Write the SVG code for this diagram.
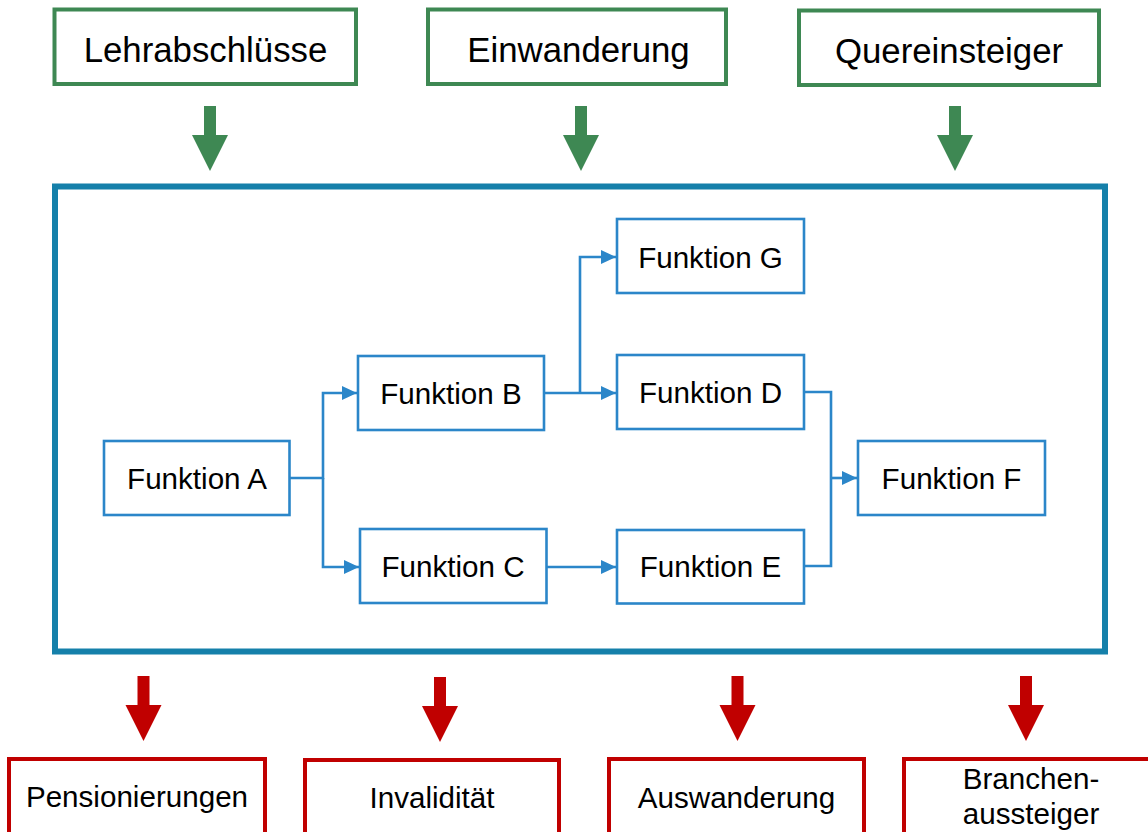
<svg xmlns="http://www.w3.org/2000/svg" xmlns:xlink="http://www.w3.org/1999/xlink" width="1148" height="832" viewBox="0 0 1148 832">
<style>
.bg{fill:#ffffff}
.src{fill:#ffffff;stroke:#3e8853;stroke-width:4}
.sink{fill:#ffffff;stroke:#c00000;stroke-width:4}
.frame{fill:none;stroke:#1580aa;stroke-width:6}
.fn{fill:#ffffff;stroke:#2b86c9;stroke-width:2.6}
.conn{fill:none;stroke:#2b86c9;stroke-width:2.6}
.garrow{fill:#3e8853}
.rarrow{fill:#c00000}
.big{font-family:"Liberation Sans",Arial,sans-serif;font-size:34.8px;fill:#000;text-anchor:middle}
.lbl{font-family:"Liberation Sans",Arial,sans-serif;font-size:29.6px;fill:#000;text-anchor:middle}
.out{font-family:"Liberation Sans",Arial,sans-serif;font-size:29.6px;fill:#000;text-anchor:middle}
</style>
<defs>
<marker id="ah" markerUnits="userSpaceOnUse" markerWidth="15" markerHeight="14" refX="15" refY="7" orient="auto">
<path d="M0,0 L15,7 L0,14 z" fill="#2b86c9"/>
</marker>
<polygon id="bigArrow" points="-6,0 6,0 6,29 18,29 0,65 -18,29 -6,29"/>
</defs>
<rect class="bg" x="0" y="0" width="1148" height="832"/>

<g id="lehrabschluesse">
<rect class="src" x="54.5" y="9.5" width="301.5" height="74.5"/>
<text class="big" x="205.5" y="62">Lehrabschlüsse</text>
</g>
<g id="einwanderung">
<rect class="src" x="428" y="9.5" width="298" height="74.5"/>
<text class="big" x="578.5" y="62">Einwanderung</text>
</g>
<g id="quereinsteiger">
<rect class="src" x="799" y="10.5" width="300" height="74.5"/>
<text class="big" x="949" y="63">Quereinsteiger</text>
</g>

<g id="inflow-arrows">
<use xlink:href="#bigArrow" class="garrow" x="210" y="106"/>
<use xlink:href="#bigArrow" class="garrow" x="581" y="106"/>
<use xlink:href="#bigArrow" class="garrow" x="955" y="106"/>
</g>

<g id="system">
<rect class="frame" x="55" y="186.5" width="1050" height="465"/>
</g>

<g id="funktion-a">
<rect class="fn" x="104" y="441" width="185.5" height="74"/>
<text class="lbl" x="197" y="489">Funktion A</text>
</g>
<g id="funktion-b">
<rect class="fn" x="358" y="356" width="186" height="74"/>
<text class="lbl" x="451" y="404">Funktion B</text>
</g>
<g id="funktion-c">
<rect class="fn" x="360" y="529" width="186.5" height="74"/>
<text class="lbl" x="453" y="577">Funktion C</text>
</g>
<g id="funktion-g">
<rect class="fn" x="617" y="219" width="187" height="74"/>
<text class="lbl" x="710.5" y="268">Funktion G</text>
</g>
<g id="funktion-d">
<rect class="fn" x="617" y="355" width="187" height="74"/>
<text class="lbl" x="710.5" y="403">Funktion D</text>
</g>
<g id="funktion-e">
<rect class="fn" x="617" y="530" width="187" height="73.5"/>
<text class="lbl" x="710.5" y="577">Funktion E</text>
</g>
<g id="funktion-f">
<rect class="fn" x="858" y="441" width="187" height="74"/>
<text class="lbl" x="951.5" y="489">Funktion F</text>
</g>

<g id="connectors">
<path class="conn" d="M289.5,478 H323 V393 H357" marker-end="url(#ah)"/>
<path class="conn" d="M323,478 V567 H359" marker-end="url(#ah)"/>
<path class="conn" d="M544,393 H616" marker-end="url(#ah)"/>
<path class="conn" d="M580,393 V257 H616" marker-end="url(#ah)"/>
<path class="conn" d="M546.5,567 H616" marker-end="url(#ah)"/>
<path class="conn" d="M804,392 H831 V566 H804"/>
<path class="conn" d="M831,478 H857" marker-end="url(#ah)"/>
</g>

<g id="outflow-arrows">
<use xlink:href="#bigArrow" class="rarrow" x="143.5" y="676"/>
<use xlink:href="#bigArrow" class="rarrow" x="440" y="677"/>
<use xlink:href="#bigArrow" class="rarrow" x="737.5" y="676"/>
<use xlink:href="#bigArrow" class="rarrow" x="1026" y="676"/>
</g>

<g id="pensionierungen">
<rect class="sink" x="9" y="759" width="256" height="100"/>
<text class="out" x="137" y="807">Pensionierungen</text>
</g>
<g id="invaliditaet">
<rect class="sink" x="305" y="760" width="254" height="100"/>
<text class="out" x="432" y="808">Invalidität</text>
</g>
<g id="auswanderung">
<rect class="sink" x="609" y="759" width="255" height="100"/>
<text class="out" x="736.5" y="808">Auswanderung</text>
</g>
<g id="branchenaussteiger">
<rect class="sink" x="904" y="759" width="260" height="100"/>
<text class="out" x="1031" y="789">Branchen-</text>
<text class="out" x="1031" y="824">aussteiger</text>
</g>
</svg>
